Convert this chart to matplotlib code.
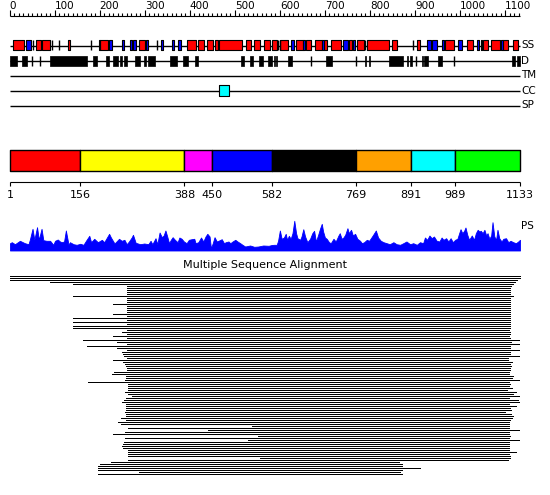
import matplotlib.pyplot as plt

seq_len = 1133

# secondary structure (residue ranges)
helices = [(8, 31), (59, 70), (71, 90), (130, 135), (201, 218), (287, 301), (393, 413),
           (418, 432), (438, 452), (455, 462), (464, 517), (524, 537), (542, 556), (564, 578),
           (582, 594), (600, 619), (636, 651), (657, 668), (679, 693), (698, 704), (713, 735),
           (754, 759), (772, 787), (793, 843), (848, 860), (904, 911), (966, 987), (1015, 1029),
           (1050, 1063), (1068, 1089), (1096, 1107), (1118, 1129)]
strands = [(36, 47), (199, 201), (221, 228), (250, 255), (267, 272), (275, 281), (302, 308),
           (336, 341), (361, 366), (375, 381), (624, 631), (651, 656), (694, 697), (741, 751),
           (762, 767), (926, 935), (938, 949), (959, 964), (996, 1005), (1037, 1043),
           (1046, 1049), (1090, 1096)]
ss_marks = [51, 94, 110, 181, 328, 596, 600, 789, 895]

# disorder
disorder = [(1, 17), (28, 38), (90, 171), (185, 193), (214, 221), (230, 241), (245, 249),
            (254, 260), (278, 290), (299, 303), (308, 323), (356, 371), (386, 396), (412, 418),
            (514, 521), (534, 540), (554, 563), (574, 582), (586, 589), (591, 594), (619, 627),
            (702, 716), (789, 791), (797, 800), (842, 874), (882, 885), (889, 893), (915, 918),
            (920, 929), (950, 959), (1116, 1122), (1126, 1133)]
disorder_marks = [50, 68, 668, 769, 902, 987]

coiled_coil = [(466, 486)]

# domain boundaries
dom_bounds = [1, 156, 388, 450, 582, 769, 891, 989, 1133]
dom_colors = ['#ff0000', '#ffff00', '#ff00ff', '#0000ff', '#000000', '#ffa000', '#00ffff', '#00ff00']

# PS profile
ps_pos = [1, 5, 12, 23, 34, 42, 45, 51, 55, 61, 65, 71, 75, 82, 90, 97, 101, 107, 112, 116,
          121, 125, 131, 134, 142, 149, 157, 164, 171, 177, 181, 188, 196, 205, 210, 214, 221,
          225, 233, 243, 249, 255, 260, 265, 271, 274, 280, 290, 299, 308, 313, 317, 324, 328,
          333, 338, 342, 346, 350, 354, 358, 362, 367, 373, 377, 382, 387, 393, 398, 404, 410,
          413, 419, 425, 430, 435, 439, 444, 447, 451, 455, 460, 465, 471, 476, 480, 486, 490,
          495, 501, 506, 512, 517, 523, 534, 543, 552, 563, 575, 582, 587, 593, 596, 600, 604,
          609, 613, 616, 620, 624, 628, 632, 636, 639, 645, 648, 652, 656, 661, 667, 672, 676,
          680, 685, 689, 693, 696, 700, 704, 709, 713, 719, 724, 730, 733, 737, 741, 745, 750,
          753, 758, 762, 767, 772, 778, 782, 787, 793, 798, 802, 807, 813, 818, 824, 830, 837,
          844, 852, 859, 867, 874, 881, 889, 896, 904, 911, 918, 922, 927, 932, 937, 942, 948,
          954, 959, 963, 969, 974, 979, 984, 989, 994, 998, 1001, 1005, 1009, 1012, 1016, 1020,
          1026, 1031, 1035, 1039, 1043, 1046, 1050, 1054, 1058, 1061, 1065, 1069, 1072, 1076,
          1080, 1083, 1087, 1092, 1096, 1102, 1107, 1112, 1118, 1124, 1129, 1133]
ps_score = [7.3, 8.3, 6.3, 9.7, 7.3, 6.3, 10.7, 21.7, 10.7, 23.3, 10.7, 21.7, 10.3, 9.7, 9.7,
            5.7, 9.7, 11, 9, 8.3, 9, 20, 5.7, 8.3, 6.3, 5.7, 6.7, 5.7, 10.7, 14.7, 8.3, 11.7,
            8.3, 10.7, 8.3, 11.3, 16.7, 13, 7, 11.7, 9.7, 10.7, 6.3, 9, 13, 15.7, 7.7, 6.3, 7,
            6.3, 9.7, 6.3, 12.3, 6.3, 18, 13.3, 15, 20, 14, 7.3, 10.7, 13.3, 10.7, 8.3, 13,
            11.7, 9, 7.3, 10.7, 11.3, 11.7, 7.3, 8.3, 13, 9, 14, 16.7, 14, 2.3, 7.3, 13.3, 9,
            10, 11.3, 7.3, 8.3, 9, 7.3, 9, 10.7, 9, 7.3, 5.7, 4, 5, 3.7, 4, 5, 4.7, 5.5, 5.7,
            5.7, 9.7, 20, 11.7, 13, 16.7, 10.7, 14.7, 11.7, 17.3, 29.7, 17.3, 12.3, 10.7, 14,
            21.3, 14, 8.3, 11.7, 17.3, 19.7, 9, 15.7, 21.7, 26.7, 19, 13, 11.7, 8.3, 7.3, 11.7,
            9, 15, 17.3, 11.7, 13, 15.7, 22.3, 17.3, 20.7, 15, 16.7, 11.7, 9.7, 7.3, 8.3, 10.7,
            9.7, 12.3, 15.7, 20, 13, 9.7, 8.3, 7.3, 6.3, 8.3, 6.3, 5.7, 7.3, 9, 6.3, 7.3, 5.7,
            8.3, 7.3, 13, 10.7, 15, 12.3, 14, 9.7, 9, 13, 10.7, 12.3, 9, 12.3, 8.3, 10.7, 11.7,
            17.3, 21.3, 17.3, 19.7, 23, 15.7, 10.7, 15, 10.7, 17.3, 20.7, 19, 19.7, 17.3, 20.7,
            15, 17.3, 11.7, 15, 28.3, 14, 10.7, 20.7, 12.3, 9, 11.7, 12.3, 8.3, 9.7, 8.3, 7.3,
            9, 10.7]

# multiple sequence alignment hits (start, end residue)
msa_start = [1, 1, 1, 90, 141, 261, 261, 261, 261, 261, 141, 261, 261, 261, 230, 261, 261,
             261, 261, 230, 261, 141, 261, 141, 261, 141, 141, 261, 250, 261, 230, 261, 163,
             238, 261, 172, 238, 261, 250, 252, 254, 261, 230, 252, 256, 258, 261, 261, 232,
             227, 258, 258, 256, 174, 263, 263, 263, 263, 256, 263, 272, 258, 254, 250, 258,
             258, 258, 258, 256, 258, 258, 247, 258, 241, 247, 538, 263, 440, 256, 230, 551,
             256, 529, 254, 252, 250, 252, 263, 263, 263, 263, 556, 263, 225, 201, 196, 196,
             196, 287, 196]
msa_end = [1133, 1133, 1126, 1122, 1117, 1113, 1111, 1111, 1111, 1111, 1117, 1111, 1111,
           1111, 1111, 1111, 1111, 1111, 1111, 1111, 1111, 1111, 1111, 1111, 1111, 1111, 1111,
           1109, 1111, 1111, 1109, 1111, 1131, 1113, 1131, 1111, 1111, 1131, 1111, 1111, 1131,
           1106, 1106, 1115, 1111, 1113, 1111, 1111, 1109, 1109, 1117, 1115, 1131, 1109, 1111,
           1109, 1115, 1104, 1124, 1117, 1131, 1109, 1128, 1131, 1109, 1124, 1111, 1113, 1100,
           1113, 1117, 1115, 1111, 1109, 1109, 1109, 1109, 1131, 1109, 1109, 1111, 1109, 1131,
           1109, 1109, 1109, 1109, 1109, 1124, 1109, 1111, 1111, 1106, 864, 871, 871, 911,
           871, 867, 871]

# residue axis mapped onto pixels 10..520, y axis in pixels
px_per_res = 510 / (seq_len - 1)
fig = plt.figure(figsize=(5.5, 4.95), dpi=100)
ax = fig.add_axes([0, 0, 1, 1])
ax.set_xlim(1 - 10 / px_per_res, seq_len + 30 / px_per_res)
ax.set_ylim(495, 0)
ax.axis('off')
fs = 7.5

# ruler
ax.hlines(15.5, 0, seq_len, color='black', lw=0.8)
for r in range(0, seq_len, 10):
    top = 10 if r % 100 == 0 else 12.5
    ax.vlines(r, top, 15.5, color='black', lw=0.8)
    if r % 100 == 0:
        ax.text(r, 6, str(r), fontsize=fs, ha='left', va='center')

# tracks
track_y = {'SS': 45.5, 'D': 61, 'TM': 75.5, 'CC': 90.5, 'SP': 105.5}
for name, y in track_y.items():
    ax.hlines(y, 1, seq_len, color='black', lw=1, zorder=1)
    ax.text(seq_len + 1.5 / px_per_res, y, name, fontsize=fs, ha='left', va='center')

ax.broken_barh([(s, e - s) for s, e in helices], (40, 10), facecolors='#ff0000',
               edgecolors='black', linewidth=0.8, zorder=2)
ax.broken_barh([(s, e - s) for s, e in strands], (40, 10), facecolors='#0000ff',
               edgecolors='black', linewidth=0.8, zorder=2)
ax.vlines(ss_marks, 40, 50, color='black', lw=1, zorder=2)
ax.broken_barh([(s, e - s) for s, e in disorder], (55.5, 10.5), facecolors='black',
               edgecolors='black', linewidth=0.5, zorder=2)
ax.vlines(disorder_marks, 55.5, 66, color='black', lw=1, zorder=2)
ax.broken_barh([(s, e - s) for s, e in coiled_coil], (85, 10.5), facecolors='#00ffff',
               edgecolors='black', linewidth=0.8, zorder=2)

# domain bar
ax.broken_barh([(dom_bounds[i], dom_bounds[i + 1] - dom_bounds[i]) for i in range(len(dom_colors))],
               (150, 20.5), facecolors=dom_colors, edgecolors='black', linewidth=1)
ax.hlines(181.5, 1, seq_len, color='black', lw=0.8)
ax.vlines(dom_bounds, 181.5, 186, color='black', lw=0.8)
for b in dom_bounds:
    ax.text(b, 195, str(b), fontsize=8, ha='center', va='center')

# PS profile
ps_base = 250.5
ax.fill_between(ps_pos, [ps_base - v for v in ps_score], ps_base, color='#0000ff', lw=0.6)
ax.text(seq_len + 1.5 / px_per_res, 226, 'PS', fontsize=fs, ha='left', va='center')

# alignment
ax.text((1 + seq_len) / 2, 265.5, 'Multiple Sequence Alignment', fontsize=8,
        ha='center', va='center')
msa_y = [275.5 + 2 * i for i in range(len(msa_start))]
ax.hlines(msa_y, msa_start, msa_end, color='black', lw=0.72, antialiased=False)

fig.savefig('out.png', dpi=100)
